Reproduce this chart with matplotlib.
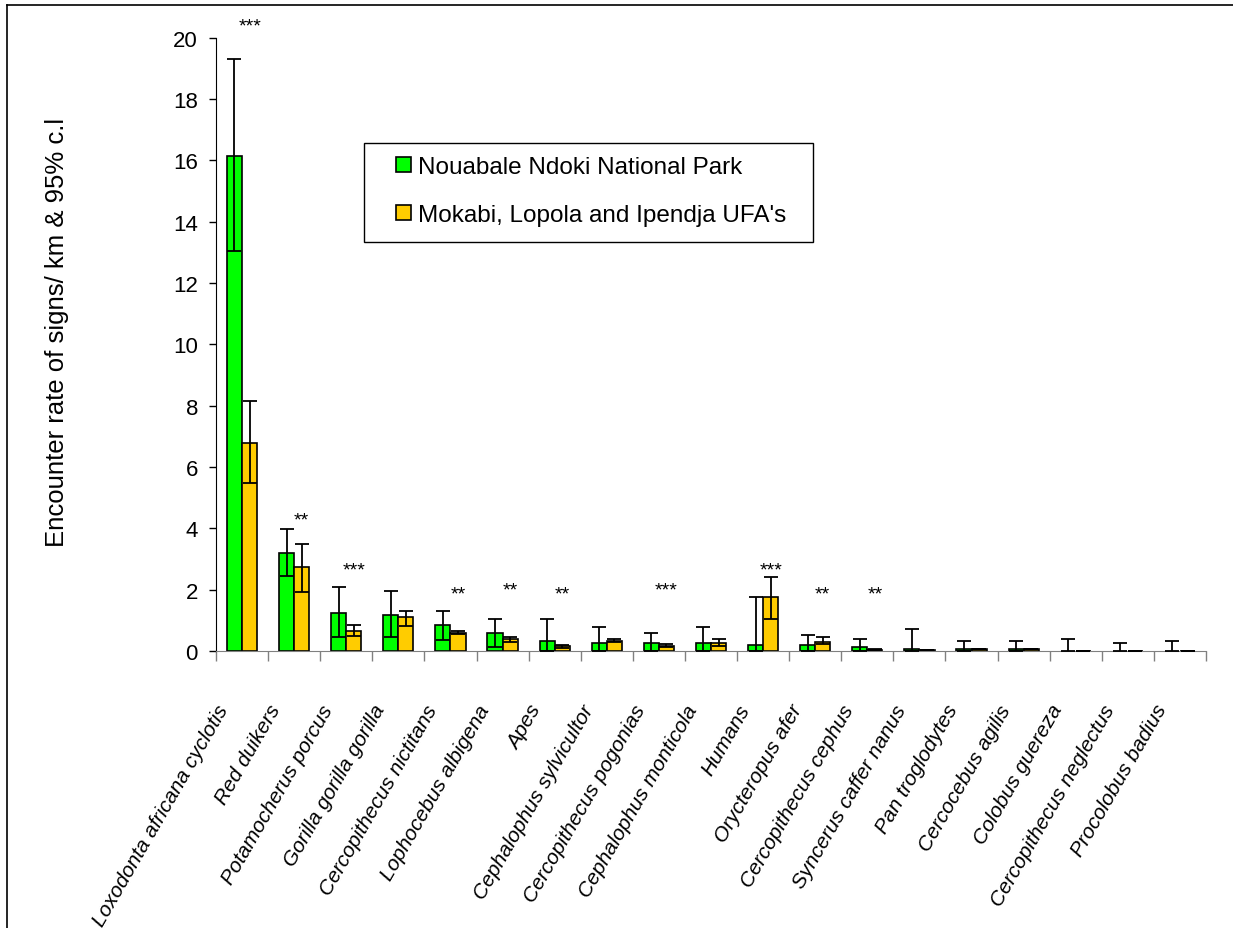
import numpy as np
import matplotlib
matplotlib.use("Agg")
import matplotlib.pyplot as plt
import matplotlib.transforms as mtransforms
from matplotlib.lines import Line2D
from matplotlib.patches import Rectangle, Patch

plt.rcParams['font.family'] = ['Liberation Sans', 'DejaVu Sans']

categories = ["Loxodonta africana cyclotis", "Red duikers", "Potamocherus porcus",
              "Gorilla gorilla gorilla", "Cercopithecus nictitans", "Lophocebus albigena",
              "Apes", "Cephalophus sylvicultor", "Cercopithecus pogonias",
              "Cephalophus monticola", "Humans", "Orycteropus afer",
              "Cercopithecus cephus", "Syncerus caffer nanus", "Pan troglodytes",
              "Cercocebus agilis", "Colobus guereza", "Cercopithecus neglectus",
              "Procolobus badius"]

park = [16.15, 3.2, 1.24, 1.17, 0.84, 0.59, 0.32, 0.26, 0.27, 0.27, 0.2, 0.2,
        0.13, 0.06, 0.05, 0.06, 0.0, 0.0, 0.0]
park_lo = [13.04, 2.46, 0.45, 0.45, 0.37, 0.12, 0.0, 0.0, 0.0, 0.0, 0.0, 0.0,
           0.0, 0.0, 0.0, 0.0, 0.0, 0.0, 0.0]
park_hi = [19.29, 3.98, 2.1, 1.95, 1.3, 1.04, 1.04, 0.77, 0.6, 0.78, 1.77, 0.53,
           0.39, 0.72, 0.33, 0.33, 0.38, 0.26, 0.33]

ufa = [6.79, 2.74, 0.64, 1.11, 0.6, 0.38, 0.15, 0.33, 0.17, 0.26, 1.77, 0.3,
       0.04, 0.02, 0.05, 0.05, 0.01, 0.01, 0.01]
ufa_lo = [5.47, 1.93, 0.5, 0.83, 0.55, 0.3, 0.1, 0.28, 0.12, 0.16, 1.04, 0.22,
          0.02, 0.02, 0.05, 0.05, 0.01, 0.01, 0.01]
ufa_hi = [8.14, 3.5, 0.85, 1.3, 0.65, 0.46, 0.2, 0.38, 0.22, 0.38, 2.4, 0.47,
          0.06, 0.02, 0.05, 0.05, 0.01, 0.01, 0.01]

stars = ["***", "**", "***", "", "**", "**", "**", "", "***", "", "***", "**",
         "**", "", "", "", "", "", ""]
star_y = [20.58, 4.49, 2.85, 0, 2.08, 2.2, 2.08, 0, 2.19, 0, 2.86, 2.08,
          2.08, 0, 0, 0, 0, 0, 0]

series_names = ["Nouabale Ndoki National Park", "Mokabi, Lopola and Ipendja UFA's"]
green = "#00FF00"
yellow = "#FFCC00"

fig = plt.figure(figsize=(12.33, 9.29), dpi=100)
ax = fig.add_axes([216/1233, 1-652/929, (1206-216)/1233, (652-38.7)/929])

n = len(categories)
x = np.arange(n) + 0.5
w = 0.29
off = 0.145

park_a = np.array(park); ufa_a = np.array(ufa)
lw_p = np.where(park_a > 0, 1.2, 0)
lw_u = np.where(ufa_a > 0, 1.2, 0)
ax.bar(x - off, park_a, w, color=green, edgecolor="black", linewidth=lw_p, zorder=2)
ax.bar(x + off, ufa_a, w, color=yellow, edgecolor="black", linewidth=lw_u, zorder=2)

ek = dict(fmt="none", ecolor="black", elinewidth=1.3, capsize=5.2, capthick=1.3, zorder=3)
ax.errorbar(x - off, park_a, yerr=[park_a - np.array(park_lo), np.array(park_hi) - park_a], **ek)
ax.errorbar(x + off, ufa_a, yerr=[ufa_a - np.array(ufa_lo), np.array(ufa_hi) - ufa_a], **ek)

for xi, s, sy in zip(x, stars, star_y):
    if s:
        ax.text(xi + off, sy - 0.36, s, ha="center", va="baseline", fontsize=14,
                clip_on=False, zorder=4)

ax.set_xlim(0, n)
ax.set_ylim(0, 20)
ax.set_yticks(np.arange(0, 21, 2))
ax.tick_params(axis="y", direction="out", length=5, width=1, pad=8, labelsize=16, color="black")
ax.set_xticks(np.arange(0, n + 1))
ax.set_xticklabels([])
ax.set_xticks(x, minor=True)
ax.set_xticklabels(categories, minor=True, rotation=60, ha="right",
                   rotation_mode="anchor", fontsize=15, style="italic")
ax.tick_params(axis="x", which="major", direction="out", length=7, width=1, color="#808080")
ax.tick_params(axis="x", which="minor", length=0, pad=36)
for lab in ax.get_xticklabels(minor=True):
    lab.set_transform(lab.get_transform() + mtransforms.ScaledTranslation(-0.26, 0, fig.dpi_scale_trans))

for s in ["top", "right"]:
    ax.spines[s].set_visible(False)
ax.spines["left"].set_color("black")
ax.spines["bottom"].set_color("#808080")

fig.text(57/1233, 1-332/929, "Encounter rate of signs/ km & 95% c.l", rotation=90,
         ha="center", va="center", fontsize=18.5)

# legend box
fig.patches.append(Rectangle((364/1233, 1-243.3/929), (813-364)/1233, (243.3-144.3)/929,
                             transform=fig.transFigure, facecolor="white",
                             edgecolor="black", linewidth=1.0, zorder=5))
handles = [Patch(facecolor=green, edgecolor="black", linewidth=1.2),
           Patch(facecolor=yellow, edgecolor="black", linewidth=1.2)]
leg = fig.legend(handles, series_names, loc="upper left",
                 bbox_to_anchor=(396/1233, 1-157/929), frameon=False, fontsize=17.5,
                 handlelength=0.61, handleheight=0.61, handletextpad=0.31,
                 labelspacing=1.07, borderpad=0, borderaxespad=0)
leg.set_zorder(6)

# figure border (top and left)
fig.add_artist(Line2D([7/1233, 7/1233], [0, 1-6/929], transform=fig.transFigure, color="black", lw=1.2))
fig.add_artist(Line2D([7/1233, 1], [1-6/929, 1-6/929], transform=fig.transFigure, color="black", lw=1.2))

fig.savefig("out.png", dpi=100)
